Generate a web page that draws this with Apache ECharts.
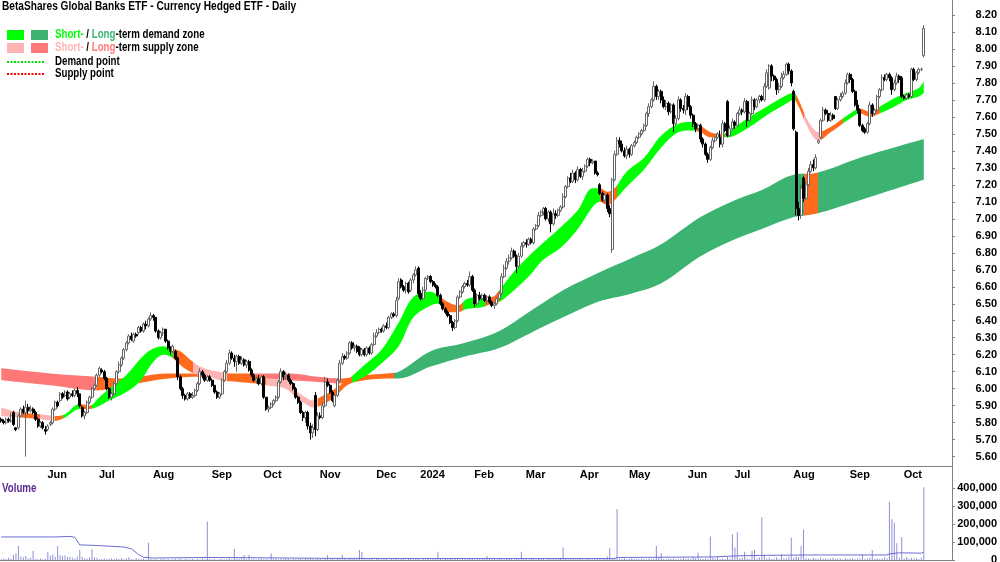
<!DOCTYPE html>
<html>
<head>
<meta charset="utf-8">
<script src="https://cdn.jsdelivr.net/npm/echarts@6/dist/echarts.min.js"></script>
<style>
  html, body { margin: 0; padding: 0; background: #fff; }
  #chart { width: 1000px; height: 562px; }
</style>
</head>
<body>
<div id="chart"></div>
<script>
// daily bars: [open, close, low, high]
const candles = [
  [5.82,5.81,5.80,5.83],[5.81,5.80,5.79,5.82],[5.80,5.82,5.79,5.83],[5.82,5.81,5.80,5.83],[5.81,5.84,5.80,5.86],
  [5.86,5.79,5.78,5.87],[5.77,5.76,5.75,5.77],[5.77,5.84,5.76,5.85],[5.84,5.88,5.83,5.89],[5.88,5.86,5.85,5.90],
  [5.86,5.89,5.60,5.93],[5.89,5.87,5.85,5.91],[5.87,5.88,5.86,5.90],[5.88,5.86,5.85,5.89],[5.86,5.82,5.81,5.87],
  [5.82,5.78,5.77,5.83],[5.78,5.80,5.77,5.81],[5.80,5.77,5.76,5.81],[5.76,5.75,5.73,5.78],[5.76,5.78,5.75,5.79],
  [5.79,5.80,5.78,5.81],[5.80,5.88,5.79,5.89],[5.88,5.92,5.87,5.93],[5.92,5.90,5.89,5.93],[5.93,5.97,5.92,5.98],
  [5.97,5.95,5.94,5.98],[5.96,5.98,5.95,5.99],[5.98,5.94,5.93,5.99],[5.95,5.97,5.94,5.98],[5.97,5.96,5.95,5.99],
  [5.96,5.99,5.95,6.00],[5.99,5.97,5.95,6.01],[5.97,5.90,5.89,5.97],[5.89,5.84,5.83,5.90],[5.84,5.86,5.82,5.87],
  [5.86,5.92,5.85,5.93],[5.92,5.95,5.91,5.96],[5.95,6.00,5.94,6.01],[6.00,6.02,5.99,6.03],[6.02,6.08,6.01,6.09],
  [6.08,6.12,6.07,6.13],[6.11,6.10,6.09,6.12],[6.10,6.06,6.05,6.11],[6.06,6.00,5.99,6.07],[6.00,5.95,5.94,6.01],
  [5.95,5.97,5.93,5.98],[5.97,6.03,5.96,6.04],[6.03,6.10,6.02,6.11],[6.10,6.14,6.09,6.16],[6.14,6.18,6.13,6.19],
  [6.18,6.23,6.17,6.24],[6.23,6.27,6.22,6.28],[6.27,6.31,6.26,6.32],[6.31,6.29,6.28,6.33],[6.28,6.32,6.27,6.33],
  [6.32,6.31,6.30,6.33],[6.33,6.36,6.32,6.37],[6.36,6.34,6.33,6.37],[6.34,6.38,6.33,6.39],[6.38,6.37,6.35,6.40],
  [6.37,6.41,6.36,6.42],[6.41,6.43,6.40,6.45],[6.43,6.42,6.40,6.44],[6.42,6.34,6.33,6.42],[6.34,6.30,6.29,6.35],
  [6.30,6.33,6.29,6.34],[6.33,6.35,6.31,6.36],[6.35,6.28,6.27,6.35],[6.28,6.24,6.23,6.29],[6.24,6.22,6.20,6.25],
  [6.22,6.25,6.21,6.26],[6.22,6.18,6.17,6.23],[6.18,6.07,6.05,6.19],[6.07,6.00,5.99,6.08],[6.00,5.96,5.94,6.01],
  [5.96,5.94,5.93,5.97],[5.94,5.97,5.93,5.98],[5.97,5.95,5.94,5.98],[5.95,5.96,5.94,5.98],[5.96,5.99,5.95,6.00],
  [5.99,6.03,5.98,6.04],[6.03,6.10,6.02,6.12],[6.10,6.08,6.06,6.11],[6.08,6.05,6.04,6.09],[6.05,6.07,6.04,6.08],
  [6.07,6.05,6.04,6.08],[6.05,6.02,6.01,6.06],[6.02,5.98,5.97,6.02],[5.98,5.95,5.94,5.99],[5.95,5.97,5.94,5.98],
  [5.97,6.05,5.96,6.06],[6.05,6.10,6.04,6.11],[6.10,6.15,6.09,6.17],[6.15,6.21,6.14,6.23],[6.21,6.18,6.17,6.22],
  [6.18,6.16,6.13,6.20],[6.16,6.19,6.10,6.20],[6.19,6.15,6.14,6.20],[6.15,6.17,6.14,6.19],[6.17,6.14,6.13,6.18],
  [6.14,6.16,6.12,6.17],[6.16,6.11,6.10,6.17],[6.11,6.08,6.07,6.12],[6.08,6.05,6.04,6.09],[6.05,6.06,6.03,6.07],
  [6.06,6.03,6.02,6.08],[6.03,6.07,6.02,6.08],[6.07,5.95,5.94,6.08],[5.95,5.88,5.87,5.95],[5.88,5.89,5.86,5.90],
  [5.89,5.91,5.88,5.92],[5.91,5.93,5.90,5.94],[5.93,5.95,5.92,5.96],[5.95,6.04,5.94,6.05],[6.04,6.10,6.03,6.12],
  [6.10,6.07,6.05,6.11],[6.07,6.08,6.05,6.10],[6.08,6.05,6.04,6.09],[6.05,6.03,6.02,6.06],[6.03,6.00,5.99,6.04],
  [6.00,5.95,5.94,6.01],[5.95,5.92,5.91,5.96],[5.92,5.86,5.85,5.93],[5.86,5.83,5.81,5.87],[5.83,5.86,5.80,5.87],
  [5.86,5.78,5.76,5.87],[5.78,5.74,5.70,5.80],[5.74,5.77,5.71,5.79],[5.96,5.76,5.72,5.98],[5.76,5.84,5.75,5.86],
  [5.84,5.83,5.82,5.86],[5.83,5.90,5.82,5.92],[5.90,6.04,5.89,6.07],[6.04,6.02,6.01,6.06],[6.02,5.98,5.97,6.03],
  [5.98,5.93,5.92,5.99],[5.90,5.96,5.89,5.97],[5.96,6.05,5.95,6.06],[6.05,6.15,6.04,6.17],[6.15,6.19,6.14,6.21],
  [6.19,6.18,6.17,6.20],[6.18,6.21,6.17,6.22],[6.21,6.27,6.20,6.28],[6.27,6.24,6.23,6.28],[6.24,6.25,6.22,6.26],
  [6.25,6.22,6.21,6.26],[6.24,6.20,6.19,6.25],[6.20,6.23,6.19,6.24],[6.23,6.20,6.19,6.24],[6.20,6.24,6.19,6.25],
  [6.24,6.21,6.20,6.25],[6.21,6.26,6.20,6.27],[6.26,6.31,6.25,6.33],[6.31,6.33,6.30,6.35],[6.33,6.35,6.32,6.36],
  [6.35,6.34,6.33,6.36],[6.34,6.37,6.33,6.38],[6.37,6.36,6.35,6.39],[6.36,6.42,6.35,6.43],[6.42,6.44,6.41,6.45],
  [6.44,6.43,6.42,6.45],[6.43,6.52,6.42,6.54],[6.53,6.63,6.52,6.65],[6.64,6.60,6.59,6.65],[6.60,6.58,6.57,6.61],
  [6.58,6.62,6.56,6.63],[6.62,6.57,6.56,6.63],[6.58,6.64,6.57,6.65],[6.64,6.67,6.62,6.68],[6.67,6.70,6.66,6.72],
  [6.71,6.56,6.54,6.72],[6.56,6.53,6.52,6.58],[6.53,6.58,6.52,6.60],[6.58,6.65,6.57,6.66],[6.65,6.66,6.64,6.67],
  [6.66,6.63,6.62,6.67],[6.63,6.61,6.60,6.64],[6.61,6.60,6.59,6.62],[6.60,6.55,6.54,6.61],[6.55,6.50,6.49,6.56],
  [6.50,6.47,6.46,6.51],[6.47,6.45,6.44,6.48],[6.45,6.43,6.42,6.46],[6.43,6.39,6.38,6.44],[6.39,6.36,6.34,6.40],
  [6.36,6.40,6.35,6.41],[6.40,6.54,6.39,6.55],[6.54,6.57,6.53,6.58],[6.57,6.60,6.56,6.61],[6.60,6.62,6.59,6.63],
  [6.62,6.61,6.60,6.64],[6.61,6.66,6.60,6.69],[6.66,6.58,6.57,6.67],[6.58,6.50,6.48,6.59],[6.50,6.55,6.49,6.56],
  [6.55,6.53,6.52,6.57],[6.53,6.55,6.52,6.56],[6.55,6.52,6.51,6.56],[6.52,6.54,6.50,6.55],[6.54,6.51,6.50,6.55],
  [6.51,6.49,6.48,6.52],[6.49,6.50,6.47,6.51],[6.50,6.53,6.49,6.54],[6.53,6.56,6.52,6.57],[6.56,6.66,6.55,6.68],
  [6.66,6.71,6.65,6.73],[6.71,6.75,6.70,6.77],[6.75,6.77,6.73,6.79],[6.77,6.81,6.76,6.83],[6.81,6.78,6.77,6.82],
  [6.78,6.72,6.68,6.79],[6.72,6.78,6.71,6.80],[6.78,6.84,6.77,6.86],[6.84,6.86,6.83,6.87],[6.86,6.85,6.83,6.88],
  [6.85,6.88,6.84,6.89],[6.88,6.86,6.85,6.89],[6.86,6.94,6.85,6.95],[6.94,6.96,6.93,6.97],[6.96,7.02,6.95,7.04],
  [7.02,7.04,7.01,7.05],[7.04,7.06,7.02,7.07],[7.06,7.00,6.99,7.07],[7.00,7.04,6.98,7.05],[7.04,6.97,6.92,7.05],
  [6.97,7.03,6.96,7.06],[7.03,7.02,7.00,7.05],[7.02,7.05,7.01,7.06],[7.05,7.07,7.04,7.08],[7.07,7.13,7.06,7.15],
  [7.13,7.19,7.12,7.20],[7.19,7.24,7.18,7.25],[7.24,7.22,7.21,7.27],[7.22,7.27,7.21,7.29],[7.27,7.23,7.21,7.28],
  [7.23,7.29,7.22,7.31],[7.29,7.25,7.24,7.30],[7.25,7.28,7.23,7.30],[7.28,7.31,7.27,7.32],[7.31,7.35,7.30,7.36],
  [7.35,7.33,7.31,7.36],[7.33,7.34,7.32,7.35],[7.34,7.27,7.26,7.34],[7.27,7.26,7.25,7.28],[7.20,7.15,7.14,7.21],
  [7.15,7.11,7.10,7.16],[7.11,7.14,7.09,7.15],[7.14,7.06,7.04,7.15],[7.06,7.03,7.01,7.08],[6.82,7.23,6.80,7.24],
  [7.23,7.38,7.22,7.40],[7.38,7.46,7.37,7.48],[7.46,7.44,7.42,7.48],[7.44,7.40,7.39,7.46],[7.40,7.37,7.36,7.42],
  [7.37,7.41,7.35,7.43],[7.41,7.38,7.36,7.42],[7.38,7.43,7.37,7.44],[7.43,7.45,7.42,7.46],[7.45,7.48,7.44,7.49],
  [7.48,7.50,7.47,7.51],[7.50,7.52,7.49,7.53],[7.52,7.55,7.51,7.56],[7.55,7.62,7.54,7.63],[7.62,7.66,7.60,7.68],
  [7.66,7.70,7.65,7.71],[7.70,7.78,7.69,7.81],[7.78,7.72,7.70,7.79],[7.72,7.75,7.70,7.76],[7.75,7.70,7.68,7.76],
  [7.70,7.66,7.65,7.72],[7.66,7.68,7.64,7.70],[7.68,7.63,7.61,7.69],[7.63,7.67,7.62,7.68],[7.67,7.56,7.51,7.68],
  [7.56,7.59,7.55,7.61],[7.59,7.70,7.58,7.72],[7.70,7.65,7.63,7.71],[7.65,7.64,7.62,7.67],[7.64,7.72,7.61,7.74],
  [7.72,7.66,7.64,7.73],[7.66,7.61,7.59,7.67],[7.61,7.56,7.54,7.62],[7.56,7.53,7.51,7.57],[7.53,7.55,7.52,7.56],
  [7.55,7.47,7.45,7.56],[7.47,7.44,7.42,7.48],[7.44,7.38,7.37,7.45],[7.38,7.35,7.33,7.39],[7.35,7.42,7.34,7.43],
  [7.42,7.46,7.41,7.48],[7.46,7.48,7.45,7.49],[7.48,7.50,7.47,7.51],[7.48,7.44,7.42,7.52],[7.44,7.56,7.42,7.58],
  [7.56,7.52,7.51,7.57],[7.69,7.49,7.48,7.70],[7.49,7.53,7.48,7.55],[7.53,7.57,7.52,7.59],[7.57,7.55,7.53,7.58],
  [7.55,7.62,7.54,7.63],[7.62,7.64,7.61,7.66],[7.64,7.63,7.61,7.65],[7.63,7.69,7.62,7.71],[7.69,7.58,7.54,7.70],
  [7.58,7.62,7.57,7.63],[7.62,7.70,7.61,7.72],[7.70,7.66,7.64,7.71],[7.66,7.70,7.65,7.71],[7.70,7.72,7.68,7.73],
  [7.72,7.70,7.69,7.73],[7.70,7.78,7.69,7.80],[7.78,7.86,7.77,7.88],[7.77,7.90,7.76,7.91],[7.90,7.84,7.81,7.91],
  [7.84,7.82,7.81,7.85],[7.82,7.76,7.73,7.83],[7.76,7.78,7.74,7.80],[7.78,7.83,7.77,7.86],[7.83,7.85,7.82,7.87],
  [7.85,7.91,7.84,7.92],[7.91,7.87,7.85,7.92],[7.87,7.80,7.78,7.88],[7.75,7.53,7.52,7.76],[7.51,7.06,7.02,7.52],
  [7.06,7.02,6.99,7.10],[7.02,7.18,7.00,7.20],[7.24,7.12,7.10,7.25],[7.12,7.20,7.11,7.22],[7.20,7.28,7.19,7.30],
  [7.28,7.32,7.27,7.34],[7.32,7.30,7.28,7.35],[7.30,7.36,7.29,7.38],[7.45,7.46,7.44,7.47],[7.48,7.58,7.47,7.59],
  [7.58,7.64,7.57,7.66],[7.64,7.62,7.61,7.65],[7.62,7.58,7.57,7.64],[7.58,7.61,7.57,7.63],[7.61,7.59,7.58,7.62],
  [7.72,7.65,7.64,7.72],[7.65,7.70,7.64,7.71],[7.70,7.72,7.69,7.74],[7.72,7.74,7.71,7.75],[7.74,7.80,7.73,7.82],
  [7.80,7.85,7.79,7.86],[7.85,7.82,7.80,7.86],[7.82,7.75,7.74,7.83],[7.75,7.67,7.66,7.76],[7.67,7.64,7.62,7.70],
  [7.64,7.55,7.54,7.65],[7.55,7.52,7.51,7.56],[7.53,7.51,7.50,7.54],[7.51,7.56,7.50,7.57],[7.56,7.67,7.55,7.69],
  [7.67,7.62,7.60,7.68],[7.62,7.64,7.61,7.65],[7.64,7.72,7.63,7.73],[7.72,7.76,7.71,7.77],[7.76,7.83,7.75,7.85],
  [7.83,7.82,7.81,7.85],[7.82,7.85,7.81,7.86],[7.85,7.83,7.81,7.86],[7.83,7.76,7.73,7.84],[7.76,7.80,7.75,7.82],
  [7.80,7.84,7.79,7.86],[7.84,7.82,7.80,7.85],[7.83,7.72,7.71,7.84],[7.72,7.71,7.70,7.73],[7.71,7.73,7.70,7.74],
  [7.73,7.72,7.71,7.74],[7.72,7.88,7.71,7.89],[7.88,7.82,7.81,7.89],[7.82,7.86,7.81,7.87],[7.86,7.88,7.85,7.89],
  [7.88,7.88,7.87,7.89],[7.96,8.12,7.95,8.14]
];

const volumes = [
  4000,9000,6000,12000,8000,28000,37000,78000,20000,15000,
  22000,9000,12000,52000,6000,5000,8000,4000,7000,46000,
  25000,30000,18000,78000,28000,22000,25000,15000,18000,12000,
  9000,20000,55000,18000,10000,8000,14000,60000,15000,12000,
  6000,5000,9000,4000,7000,10000,5000,8000,6000,12000,
  5000,9000,15000,6000,4000,10000,7000,5000,8000,3000,
  96000,5000,3000,6000,2000,4000,8000,3000,5000,2000,
  4000,6000,3000,7000,2000,5000,3000,4000,6000,2000,
  5000,3000,8000,4000,213000,6000,3000,5000,2000,4000,
  7000,3000,5000,9000,4000,61000,8000,5000,12000,28000,
  6000,28000,4000,7000,3000,5000,9000,4000,6000,3000,
  37000,5000,8000,3000,6000,4000,10000,5000,3000,7000,
  4000,9000,6000,3000,8000,5000,12000,6000,4000,7000,
  5000,3000,9000,28000,4000,6000,3000,8000,5000,28000,
  6000,4000,9000,7000,5000,10000,55000,45000,8000,4000,
  6000,9000,3000,7000,5000,4000,8000,6000,3000,10000,
  5000,7000,4000,9000,6000,3000,8000,5000,4000,7000,
  6000,3000,9000,5000,8000,4000,6000,10000,46000,5000,
  3000,7000,5000,9000,4000,6000,8000,3000,5000,7000,
  4000,9000,6000,3000,8000,5000,4000,7000,22000,6000,
  9000,5000,3000,8000,6000,4000,10000,5000,7000,3000,
  6000,4000,46000,8000,5000,3000,7000,9000,4000,6000,
  5000,8000,3000,7000,4000,6000,9000,5000,12000,70000,
  6000,4000,8000,5000,3000,7000,9000,6000,4000,8000,
  5000,3000,7000,10000,6000,4000,8000,20000,65000,5000,
  9000,283000,7000,5000,8000,4000,6000,10000,5000,7000,
  4000,8000,6000,3000,9000,5000,7000,78000,12000,37000,
  6000,4000,8000,5000,9000,6000,3000,7000,12000,5000,
  8000,6000,15000,10000,40000,7000,5000,9000,6000,130000,
  12000,8000,20000,6000,10000,5000,18000,9000,143000,70000,
  154000,8000,12000,46000,10000,6000,52000,55000,9000,14000,
  237000,30000,8000,12000,6000,9000,15000,7000,31000,10000,
  8000,18000,124000,12000,20000,15000,78000,170000,10000,8000,
  6000,12000,9000,5000,14000,7000,10000,6000,8000,12000,
  5000,9000,7000,4000,11000,6000,8000,10000,5000,7000,
  9000,30000,6000,8000,12000,55000,7000,10000,5000,9000,
  14000,8000,324000,226000,209000,93000,12000,126000,9000,15000,
  7000,11000,8000,10000,6000,12000,404000
];

// volume average line, [bar index, value]
const volumeAvg = [
  [0,128000],[22,128000],[28,131000],[30,126000],[32,84000],[40,80000],[50,72000],[53,62000],
  [56,30000],[58,15000],[62,11000],[84,14000],[100,13000],[134,9000],[200,8000],[250,8000],
  [251,14000],[290,17000],[300,23000],[312,26000],[330,28000],[361,28000],[362,34000],
  [366,40000],[375,38000],[376,45000]
];

// zone bands, [bar index, lower, upper]
const shortBand = [
  [0,5.84,5.89],[8,5.83,5.86],[16,5.82,5.85],[22,5.81,5.84],[26,5.83,5.85],[32,5.88,5.91],
  [36,5.88,5.90],[40,5.90,5.95],[44,5.93,6.00],[51,5.98,6.08],[57,6.05,6.18],[61,6.14,6.23],
  [66,6.20,6.25],[69,6.19,6.24],[73,6.14,6.22],[77,6.10,6.17],[81,6.08,6.13],[85,6.07,6.11],
  [89,6.05,6.10],[97,6.04,6.08],[104,6.03,6.08],[108,6.02,6.06],[116,6.00,6.05],[120,5.95,5.99],
  [124,5.91,5.95],[127,5.89,5.93],[130,5.90,5.95],[134,5.93,5.98],[138,5.98,6.02],[141,6.02,6.05],
  [148,6.07,6.14],[155,6.15,6.23],[162,6.25,6.39],[168,6.42,6.54],[175,6.49,6.57],[178,6.50,6.55],
  [182,6.45,6.51],[186,6.45,6.49],[190,6.47,6.53],[196,6.48,6.54],[200,6.50,6.54],[203,6.51,6.58],
  [209,6.58,6.69],[215,6.66,6.78],[221,6.76,6.86],[228,6.83,6.95],[235,6.94,7.05],[241,7.07,7.18],
  [244,7.10,7.18],[247,7.08,7.16],[250,7.11,7.18],[255,7.19,7.28],[262,7.29,7.36],[269,7.42,7.49],
  [276,7.51,7.56],[281,7.52,7.57],[285,7.51,7.55],[289,7.48,7.51],[293,7.48,7.50],[296,7.48,7.51],
  [299,7.49,7.54],[305,7.54,7.60],[312,7.61,7.66],[319,7.67,7.72],[323,7.70,7.74],[325,7.66,7.70],
  [328,7.56,7.60],[331,7.48,7.53],[333,7.46,7.51],[338,7.51,7.54],[342,7.55,7.58],[346,7.59,7.62],
  [350,7.62,7.65],[354,7.60,7.63],[358,7.62,7.66],[364,7.66,7.71],[369,7.70,7.74],[374,7.72,7.77],
  [376,7.74,7.81]
];
const longBand = [
  [0,6.05,6.12],[20,6.02,6.09],[39,5.99,6.07],[48,6.01,6.06],[55,6.03,6.07],[68,6.06,6.09],
  [81,6.07,6.09],[95,6.06,6.09],[106,6.06,6.09],[118,6.05,6.09],[129,6.04,6.07],[139,6.03,6.06],
  [148,6.05,6.08],[157,6.06,6.09],[162,6.06,6.10],[175,6.13,6.22],[189,6.19,6.27],[203,6.24,6.34],
  [216,6.33,6.46],[229,6.42,6.58],[243,6.51,6.68],[257,6.56,6.77],[269,6.62,6.85],[285,6.78,7.01],
  [299,6.88,7.11],[310,6.94,7.17],[323,7.01,7.26],[332,7.03,7.27],[350,7.11,7.36],[376,7.23,7.47]
];

// zone state from a bar index onwards: d = demand, s = supply, n = neutral
const shortZones = [
  [0,'s'],[8,'n'],[16,'s'],[22,'n'],[25,'d'],[32,'n'],[37,'d'],[70,'n'],[78,'s'],[92,'n'],
  [108,'s'],[129,'n'],[143,'d'],[179,'n'],[188,'d'],[197,'n'],[203,'d'],[244,'n'],[251,'d'],
  [283,'n'],[295,'d'],[324,'n'],[327,'s'],[334,'n'],[343,'d'],[350,'n'],[358,'d']
];
const longZones = [
  [0,'s'],[39,'n'],[80,'s'],[90,'n'],[103,'s'],[138,'n'],[160,'d'],[327,'n'],[333,'d']
];

// first bar of each month and its tick label
const monthTicks = [
  [18,'Jun'],[39,'Jul'],[61,'Aug'],[85,'Sep'],[106,'Oct'],[129,'Nov'],[152,'Dec'],[170,'2024'],
  [192,'Feb'],[213,'Mar'],[235,'Apr'],[255,'May'],[279,'Jun'],[298,'Jul'],[322,'Aug'],[345,'Sep'],[367,'Oct']
];

const FONT = '"Liberation Sans", Arial, sans-serif';
const SQUEEZE = 0.81;

const shortColors = { d: '#00ff00', s: '#ffb4b4', n: '#ff6a1c' };
const longColors = { d: '#3cb371', s: '#ff7878', n: '#ff6a1c' };

// bar slots, with blank room after the last bar
const slots = 388;
const cats = [];
for (let i = 0; i < slots; i++) cats.push(String(i));
const tickText = {};
monthTicks.forEach(t => { tickText[t[0]] = t[1]; });
const isTick = i => tickText[i] !== undefined;

function pieces(zones, colors) {
  return zones.map((z, i) => ({
    gte: i === 0 ? -10 : z[0] - 0.5,
    lt: i === zones.length - 1 ? 10000 : zones[i + 1][0] - 0.5,
    color: colors[z[1]]
  }));
}

function bandSeries(band, name) {
  return [{
    type: 'line', name: name + 'base', stack: name, smooth: 0.35, symbol: 'none',
    xAxisIndex: 0, yAxisIndex: 0, silent: true, z: 1,
    lineStyle: { width: 0, opacity: 0 },
    data: band.map(b => [b[0], b[1]])
  }, {
    type: 'line', name: name + 'zone', stack: name, smooth: 0.35, symbol: 'none',
    xAxisIndex: 0, yAxisIndex: 0, silent: true, z: 2,
    lineStyle: { width: 0 },
    areaStyle: { opacity: 1 },
    data: band.map(b => [b[0], +(b[2] - b[1]).toFixed(4)])
  }];
}

function squeezedText(x, y, style, sx) {
  return { type: 'text', x: x, y: y, scaleX: sx || SQUEEZE, style: Object.assign({ verticalAlign: 'middle' }, style) };
}

const chart = echarts.init(document.getElementById('chart'));

const axisGrey = '#808080';
const bold12 = 'bold 12px ' + FONT;

const option = {
  animation: false,
  backgroundColor: '#ffffff',
  textStyle: { fontFamily: FONT },
  grid: [
    { left: 0, right: 48, top: 0, height: 466, outerBoundsMode: 'none' },
    { left: 0, right: 48, top: 480, height: 80, outerBoundsMode: 'none' }
  ],
  xAxis: [{
    type: 'category', gridIndex: 0, data: cats, boundaryGap: true,
    axisLine: { lineStyle: { color: axisGrey, width: 1 } },
    axisTick: { alignWithLabel: true, length: 3, interval: i => isTick(i), lineStyle: { color: axisGrey } },
    axisLabel: {
      interval: i => isTick(i), align: 'left', margin: 3, padding: [0, 0, 0, 2],
      fontFamily: FONT, fontWeight: 'bold', fontSize: 11, color: '#000',
      formatter: v => tickText[v] || ''
    },
    splitLine: { show: false }
  }, {
    type: 'category', gridIndex: 1, data: cats, boundaryGap: true, position: 'top',
    axisLine: { lineStyle: { color: axisGrey, width: 1 } },
    axisTick: { show: false }, axisLabel: { show: false }, splitLine: { show: false }
  }],
  yAxis: [{
    type: 'value', gridIndex: 0, position: 'right', min: 5.545, max: 8.288, splitNumber: 27,
    axisLine: { show: true, lineStyle: { color: axisGrey } },
    axisTick: { show: true, length: 3, lineStyle: { color: axisGrey } },
    splitLine: { show: false },
    axisLabel: {
      align: 'right', margin: 45, showMinLabel: false, showMaxLabel: false,
      fontFamily: FONT, fontWeight: 'bold', fontSize: 11, color: '#000',
      formatter: v => v.toFixed(2)
    }
  }, {
    type: 'value', gridIndex: 1, position: 'right', min: 0, max: 444444, interval: 100000,
    axisLine: { show: true, lineStyle: { color: axisGrey } },
    axisTick: { show: true, length: 3, lineStyle: { color: axisGrey } },
    splitLine: { show: false },
    axisLabel: {
      align: 'right', margin: 45, showMaxLabel: false,
      fontFamily: FONT, fontWeight: 'bold', fontSize: 11, color: '#000',
      formatter: v => v.toLocaleString('en-US')
    }
  }],
  visualMap: [
    { type: 'piecewise', show: false, dimension: 0, seriesIndex: 1, pieces: pieces(longZones, longColors) },
    { type: 'piecewise', show: false, dimension: 0, seriesIndex: 3, pieces: pieces(shortZones, shortColors) }
  ],
  series: [
    ...bandSeries(longBand, 'long'),
    ...bandSeries(shortBand, 'short'),
    {
      type: 'candlestick', name: 'price', xAxisIndex: 0, yAxisIndex: 0, z: 5,
      barWidth: 2.5,
      itemStyle: { color: '#ffffff', color0: '#000000', borderColor: '#666666', borderColor0: '#000000', borderWidth: 1 },
      data: candles
    },
    {
      type: 'bar', name: 'volume', xAxisIndex: 1, yAxisIndex: 1, barWidth: 1,
      itemStyle: { color: '#8f8fdc' },
      data: volumes
    },
    {
      type: 'line', name: 'volume avg', xAxisIndex: 1, yAxisIndex: 1, symbol: 'none', z: 3,
      lineStyle: { color: '#6c6cd4', width: 1 },
      data: volumeAvg
    }
  ],
  graphic: [
    { type: 'line', shape: { x1: 952.5, y1: 466, x2: 952.5, y2: 480 }, style: { stroke: axisGrey, lineWidth: 1 } },
    squeezedText(2, 7, { text: 'BetaShares Global Banks ETF - Currency Hedged ETF - Daily', font: bold12, fill: '#000' }, 0.845),
    { type: 'rect', shape: { x: 7, y: 30, width: 17, height: 10 }, style: { fill: shortColors.d } },
    { type: 'rect', shape: { x: 31, y: 30, width: 17, height: 10 }, style: { fill: longColors.d } },
    { type: 'rect', shape: { x: 7, y: 43, width: 17, height: 10 }, style: { fill: shortColors.s } },
    { type: 'rect', shape: { x: 31, y: 43, width: 17, height: 10 }, style: { fill: longColors.s } },
    { type: 'line', shape: { x1: 7, y1: 62, x2: 45, y2: 62 }, style: { stroke: '#00e000', lineWidth: 2, lineDash: [2, 1.5] } },
    { type: 'line', shape: { x1: 7, y1: 74, x2: 45, y2: 74 }, style: { stroke: '#ff0000', lineWidth: 2, lineDash: [2, 1.5] } },
    squeezedText(55, 35, {
      text: '{g|Short-}{k| / }{l|Long}{k|-term demand zone}',
      rich: { g: { fill: shortColors.d, font: bold12 }, l: { fill: longColors.d, font: bold12 }, k: { fill: '#000', font: bold12 } }
    }),
    squeezedText(55, 48, {
      text: '{g|Short-}{k| / }{l|Long}{k|-term supply zone}',
      rich: { g: { fill: shortColors.s, font: bold12 }, l: { fill: longColors.s, font: bold12 }, k: { fill: '#000', font: bold12 } }
    }),
    squeezedText(55, 62, { text: 'Demand point', font: bold12, fill: '#000' }),
    squeezedText(55, 74, { text: 'Supply point', font: bold12, fill: '#000' }),
    squeezedText(2, 489, { text: 'Volume', font: bold12, fill: '#5b2a90' })
  ]
};

chart.setOption(option);
window.addEventListener('resize', () => chart.resize());
</script>
</body>
</html>
